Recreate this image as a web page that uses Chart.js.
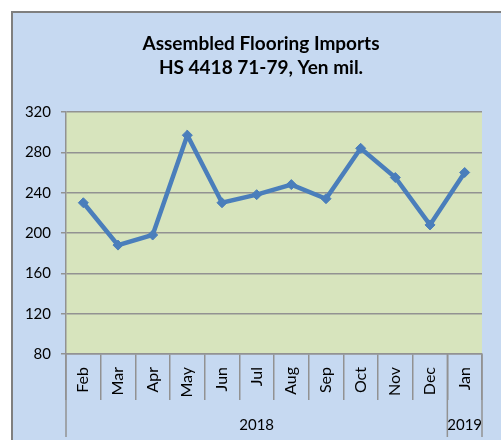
<!DOCTYPE html>
<html>
<head>
<meta charset="utf-8">
<script src="https://cdn.jsdelivr.net/npm/chart.js@4"></script>
<style>
  html, body { margin: 0; padding: 0; background: #fff; }
  canvas { display: block; }
</style>
</head>
<body>
<canvas id="importsChart" width="501" height="440"></canvas>
<script>
// chart data
const months = ['Feb', 'Mar', 'Apr', 'May', 'Jun', 'Jul', 'Aug', 'Sep', 'Oct', 'Nov', 'Dec', 'Jan'];
const imports = [230, 188, 198, 297, 230, 238, 248, 234, 284, 255, 208, 260];
const years = ['2018', '2019'];
const yearStarts = [0, 11]; // index of first month in each year
const yTicks = [80, 120, 160, 200, 240, 280, 320];
const titleLines = ['Assembled Flooring Imports', 'HS 4418 71-79, Yen mil.'];

const FONT = "Lato, 'Open Sans', sans-serif";
const LINE_BLUE = '#4a7ebb';
const GRID_GREY = '#929292';

// background box, plot fill, title, and the year row under the months
const frame = {
    id: 'frame',
    beforeDraw(chart) {
        const ctx = chart.ctx;
        const a = chart.chartArea;
        ctx.save();
        ctx.fillStyle = '#c6d9f1';
        ctx.fillRect(11, 11, chart.width, chart.height);
        ctx.strokeStyle = '#7f7f7f';
        ctx.lineWidth = 2;
        ctx.beginPath();
        ctx.moveTo(12, chart.height);
        ctx.lineTo(12, 12);
        ctx.lineTo(chart.width, 12);
        ctx.stroke();

        ctx.fillStyle = '#d7e4bd';
        ctx.fillRect(a.left, a.top, a.right - a.left, a.bottom - a.top);

        ctx.fillStyle = '#000';
        ctx.font = 'bold 19px ' + FONT;
        ctx.textAlign = 'center';
        ctx.textBaseline = 'alphabetic';
        ctx.fillText(titleLines[0], 261, 50);
        ctx.fillText(titleLines[1], 261, 74);
        ctx.restore();
    },
    afterDraw(chart) {
        const ctx = chart.ctx;
        const x = chart.scales.x;
        const a = chart.chartArea;
        const half = (x.getPixelForValue(1) - x.getPixelForValue(0)) / 2;
        const edges = yearStarts.concat([months.length]).map(i => x.getPixelForValue(i) - half);
        ctx.save();
        ctx.strokeStyle = GRID_GREY;
        ctx.lineWidth = 1.5;
        edges.forEach(px => {
            ctx.beginPath();
            ctx.moveTo(px, a.bottom);
            ctx.lineTo(px, 437);
            ctx.stroke();
        });
        ctx.fillStyle = '#000';
        ctx.font = '15px ' + FONT;
        ctx.textAlign = 'center';
        ctx.textBaseline = 'middle';
        years.forEach((yr, i) => {
            ctx.fillText(yr, (edges[i] + edges[i + 1]) / 2, 425);
        });
        ctx.restore();
    }
};

new Chart(document.getElementById('importsChart'), {
    type: 'line',
    data: {
        labels: months,
        datasets: [{
            data: imports,
            borderColor: LINE_BLUE,
            backgroundColor: LINE_BLUE,
            borderWidth: 4.5,
            tension: 0,
            pointStyle: 'rectRot',
            pointRadius: 5,
            pointBorderWidth: 1
        }]
    },
    options: {
        responsive: false,
        animation: false,
        layout: { padding: { top: 112, right: 19, left: 0, bottom: 0 } },
        plugins: {
            legend: { display: false },
            title: { display: false },
            tooltip: { enabled: false }
        },
        scales: {
            x: {
                offset: true,
                afterFit(scale) { scale.height = 86; },
                grid: {
                    offset: true,
                    drawOnChartArea: false,
                    color: GRID_GREY,
                    lineWidth: 1.5,
                    tickLength: 46
                },
                border: { color: GRID_GREY, width: 1.5 },
                ticks: {
                    minRotation: 90,
                    maxRotation: 90,
                    autoSkip: false,
                    padding: -33,
                    color: '#000',
                    font: { family: FONT, size: 16 }
                }
            },
            y: {
                min: 80,
                max: 320,
                afterFit(scale) { scale.width = 66; },
                afterBuildTicks(scale) { scale.ticks = yTicks.map(v => ({ value: v })); },
                grid: {
                    color: GRID_GREY,
                    lineWidth: 1.5,
                    tickLength: 5
                },
                border: { color: GRID_GREY, width: 1.5 },
                ticks: {
                    padding: 10,
                    color: '#000',
                    font: { family: FONT, size: 15 }
                }
            }
        }
    },
    plugins: [frame]
});
</script>
</body>
</html>
